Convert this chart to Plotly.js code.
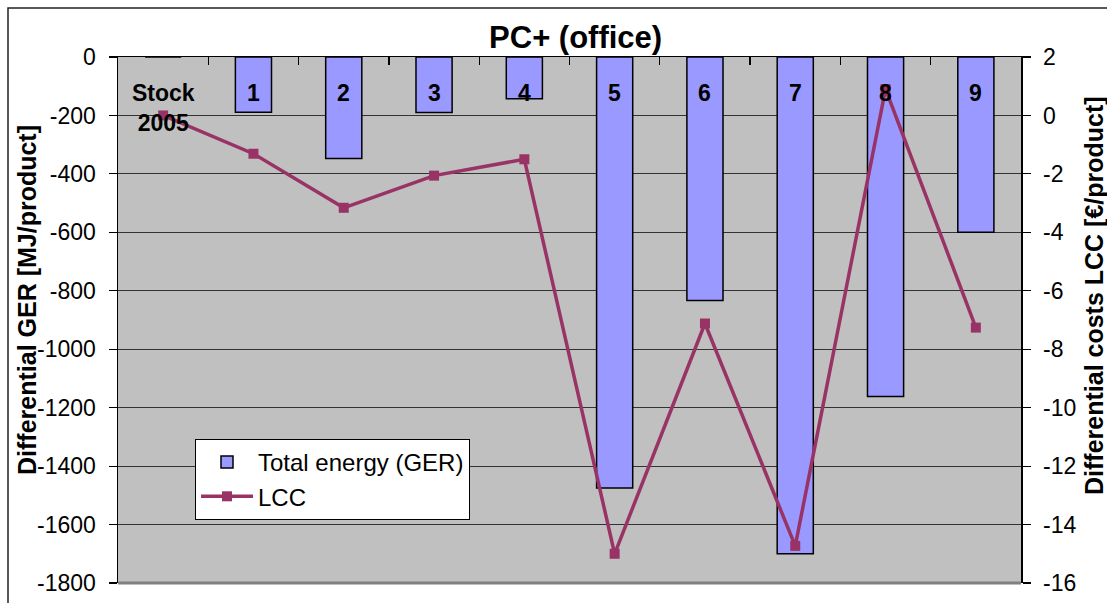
<!DOCTYPE html>
<html><head><meta charset="utf-8">
<script src="https://cdn.plot.ly/plotly-3.0.1.min.js"></script>
<style>html,body{margin:0;padding:0;background:#fff;} #chart{width:1107px;height:603px;}</style>
</head><body><div id="chart"></div>
<script>
const categories = ["Stock<br>2005", "1", "2", "3", "4", "5", "6", "7", "8", "9"];
const gerValues = [0, -189, -347, -190, -143, -1475, -833, -1700, -1162, -600];
const lccValues = [0, -1.31, -3.16, -2.06, -1.50, -15.0, -7.12, -14.73, 0.9, -7.26];
const leftTicks = [0, -200, -400, -600, -800, -1000, -1200, -1400, -1600, -1800];
const rightTicks = [2, 0, -2, -4, -6, -8, -10, -12, -14, -16];

const FONT = "Arial, 'Liberation Sans', sans-serif";
const L = 118, R = 86, T = 57, B = 20, W = 1107, H = 603;
const pw = W - L - R, ph = H - T - B;
const px = v => (v - L) / pw;          // page x -> paper x
const py = v => (H - B - v) / ph;      // page y -> paper y

const traces = [
  {
    type: 'bar', name: 'Total energy (GER)', x: categories, y: gerValues,
    width: 0.4,
    marker: {color: '#9999ff', line: {color: '#000000', width: 1.5}},
    yaxis: 'y'
  },
  {
    type: 'scatter', mode: 'lines+markers', name: 'LCC', x: categories, y: lccValues,
    line: {color: '#993366', width: 3.5},
    marker: {symbol: 'square', size: 10, color: '#993366'},
    yaxis: 'y2', cliponaxis: false
  }
];

const annotations = categories.map(c => ({
  x: c, xref: 'x', y: 1, yref: 'paper', yanchor: 'top', yshift: -21,
  text: c, showarrow: false,
  font: {family: FONT, size: 23, color: '#000', weight: 700}
}));
annotations.push({
  x: px(27), xref: 'paper', y: py(300), yref: 'paper', textangle: -90,
  text: 'Differential GER [MJ/product]', showarrow: false,
  xanchor: 'center', yanchor: 'middle',
  font: {family: FONT, size: 25, color: '#000', weight: 700}
});
annotations.push({
  x: px(1094), xref: 'paper', y: py(296), yref: 'paper', textangle: -90,
  text: 'Differential costs LCC [€/product]', showarrow: false,
  xanchor: 'center', yanchor: 'middle',
  font: {family: FONT, size: 25, color: '#000', weight: 700}
});

const layout = {
  width: W, height: H,
  margin: {l: L, r: R, t: T, b: B, pad: 0},
  paper_bgcolor: '#ffffff', plot_bgcolor: '#c0c0c0',
  font: {family: FONT, color: '#000'},
  title: {text: 'PC+ (office)', x: 561 / W, xref: 'paper', xanchor: 'center',
          y: 1 - 37 / H, yanchor: 'middle', yref: 'container',
          font: {family: FONT, size: 31, weight: 700, color: '#000'}},
  showlegend: true,
  legend: {x: px(195), y: py(439), xanchor: 'left', yanchor: 'top',
           bgcolor: '#ffffff', bordercolor: '#000000', borderwidth: 1,
           font: {family: FONT, size: 24, color: '#000'}, tracegroupgap: 0,
           itemwidth: 52},
  bargap: 0.6,
  xaxis: {type: 'category', categoryorder: 'array', categoryarray: categories,
          range: [-0.5, categories.length - 0.5], side: 'top',
          showline: true, linecolor: '#000', linewidth: 1.5,
          ticks: 'inside', ticklen: 8, tickcolor: '#000', tickwidth: 1.2,
          tickson: 'boundaries', showticklabels: false, showgrid: false,
          zeroline: false, fixedrange: true},
  yaxis: {range: [-1800, 0], tickvals: leftTicks, ticktext: leftTicks.map(String),
          ticks: 'outside', ticklen: 8, tickcolor: '#000', tickwidth: 1.2,
          showline: true, linecolor: '#000', linewidth: 1.5,
          showgrid: true, gridcolor: '#333333', gridwidth: 1.2, zeroline: false,
          ticklabelstandoff: 8,
          tickfont: {family: FONT, size: 23, color: '#000'}},
  yaxis2: {range: [-16, 2], tickvals: rightTicks, ticktext: rightTicks.map(String),
           overlaying: 'y', side: 'right',
           ticks: 'outside', ticklen: 8, tickcolor: '#000', tickwidth: 1.2,
           showline: true, linecolor: '#000', linewidth: 1.5,
           showgrid: false, zeroline: false, ticklabelstandoff: 8,
           tickfont: {family: FONT, size: 23, color: '#000'}},
  annotations: annotations,
  shapes: [
    {type: 'line', xref: 'paper', yref: 'paper', x0: 0, x1: 1, y0: 0, y1: 0,
     line: {color: '#808080', width: 3}},
    {type: 'rect', xref: 'paper', yref: 'paper',
     x0: px(8), x1: px(W + 10), y0: py(H + 10), y1: py(8),
     line: {color: '#222222', width: 1.5}, fillcolor: 'rgba(0,0,0,0)', layer: 'above'}
  ]
};

Plotly.newPlot('chart', traces, layout, {displayModeBar: false, staticPlot: true});
</script>
</body></html>
